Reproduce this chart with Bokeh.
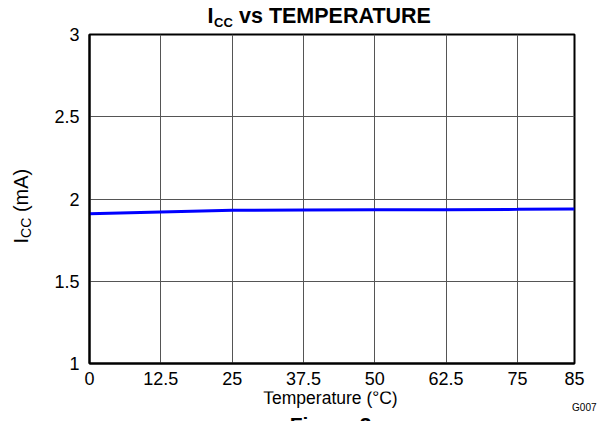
from bokeh.plotting import figure
from bokeh.models import Label, FixedTicker, Range1d
from bokeh.layouts import column, row
from bokeh.embed import file_html
from bokeh.resources import INLINE
import math

# ---- data ----
temperature = [0, 12.5, 25, 37.5, 50, 62.5, 75, 85]
icc_ma = [1.910, 1.921, 1.932, 1.933, 1.934, 1.935, 1.937, 1.939]

x_ticks = [0, 12.5, 25, 37.5, 50, 62.5, 75, 85]
x_tick_labels = ["0", "12.5", "25", "37.5", "50", "62.5", "75", "85"]
y_ticks = [1, 1.5, 2, 2.5, 3]
y_tick_labels = ["1", "1.5", "2", "2.5", "3"]

FONT = "Liberation Sans"
W = 597
TOP_H, MID_H, BOT_H = 27, 364, 30
LEFT_W = 40

# ---- main plot ----
p = figure(width=W - LEFT_W, height=MID_H, output_backend="svg", toolbar_location=None,
           x_range=Range1d(0, 85), y_range=Range1d(1, 3),
           min_border_left=49, min_border_right=23, min_border_top=7,
           min_border_bottom=28)
p.title = None
p.background_fill_color = "white"
p.border_fill_color = "white"
p.outline_line_color = "black"
p.outline_line_width = 2

p.line(temperature, icc_ma, line_color="#0000FF", line_width=3)

for ax in (p.xaxis[0], p.yaxis[0]):
    ax.axis_line_color = "black"
    ax.axis_line_width = 2
    ax.major_tick_in = 0
    ax.major_tick_out = 0
    ax.minor_tick_in = 0
    ax.minor_tick_out = 0
    ax.major_label_text_font = FONT
    ax.major_label_text_font_size = "18px"
    ax.major_label_text_color = "black"
p.xaxis[0].major_label_standoff = 8
p.yaxis[0].major_label_standoff = 10

p.xaxis[0].ticker = FixedTicker(ticks=x_ticks)
p.xaxis[0].major_label_overrides = {t: l for t, l in zip(x_ticks, x_tick_labels)}
p.yaxis[0].ticker = FixedTicker(ticks=y_ticks)
p.yaxis[0].major_label_overrides = {t: l for t, l in zip(y_ticks, y_tick_labels)}

p.xgrid[0].ticker = FixedTicker(ticks=x_ticks)
p.ygrid[0].ticker = FixedTicker(ticks=y_ticks)
for g in (p.xgrid[0], p.ygrid[0]):
    g.grid_line_color = "#555555"
    g.grid_line_width = 1


def strip(w, h):
    s = figure(width=w, height=h, output_backend="svg", toolbar_location=None,
               x_range=Range1d(0, w), y_range=Range1d(0, h),
               x_axis_location=None, y_axis_location=None, min_border=0)
    s.title = None
    s.outline_line_color = None
    s.xgrid.visible = False
    s.ygrid.visible = False
    s.background_fill_color = "white"
    s.border_fill_color = "white"
    return s


def lab(fig, x, y, text, size, bold=False, align="left", angle=0):
    fig.add_layout(Label(x=x, y=y, x_units="screen", y_units="screen", text=text,
                         text_font=FONT, text_font_size=f"{size}px",
                         text_font_style="bold" if bold else "normal",
                         text_color="black", text_align=align,
                         text_baseline="alphabetic", angle=angle))


# ---- title strip ----
top = strip(W, TOP_H)
lab(top, 207, 12, "I", 21.5, bold=True)
lab(top, 213.5, 5.5, "CC", 13, bold=True)
lab(top, 238.5, 12, "vs TEMPERATURE", 21.5, bold=True)

# ---- y-label strip (its frame shares the main plot's vertical borders) ----
left = strip(LEFT_W, MID_H)
lab(left, 20, 120, "I", 20, angle=math.pi / 2)
lab(left, 25, 125.6, "CC", 14, angle=math.pi / 2)
lab(left, 20, 151.4, "(mA)", 20, angle=math.pi / 2)

# ---- bottom strip ----
bot = strip(W, BOT_H)
lab(bot, 330, 23.5, "Temperature (°C)", 17.5, align="center")
lab(bot, 596, 14.5, "G007", 10, align="right")
lab(bot, 330, -3, "Figure 3", 21, bold=True, align="center")

layout = column(top, row(left, p, spacing=0), bot, spacing=0)

open("out.html", "w").write(file_html(layout, INLINE))
